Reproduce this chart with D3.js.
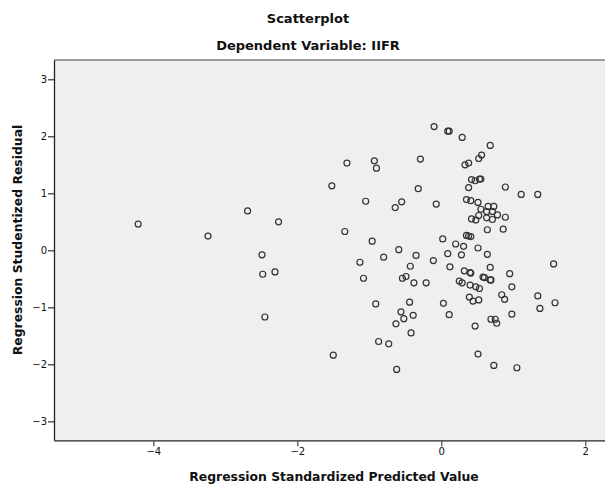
<!DOCTYPE html>
<html>
<head>
<meta charset="utf-8">
<script src="https://cdn.jsdelivr.net/npm/d3@7"></script>
<style>
  body { margin: 0; background: #fff; }
  svg { display: block; }
  .title { font-family: "DejaVu Sans", sans-serif; font-weight: bold; font-size: 13px; fill: #111; }
  .axis-title { font-family: "DejaVu Sans", sans-serif; font-weight: bold; font-size: 12.4px; fill: #111; }
  .tick text { font-family: "DejaVu Sans", sans-serif; font-size: 10px; fill: #111; }
</style>
</head>
<body>
<div id="chart"></div>
<script>
const WIDTH = 605;
const HEIGHT = 489;
const LEFT = 54;
const RIGHT = 605;
const TOP = 60;
const BOTTOM = 440.3;

const xTicks = [-4, -2, 0, 2];
const yTicks = [-3, -2, -1, 0, 1, 2, 3];

// Standardized predicted values (x) and studentized residuals (y)
const predicted = [
  -4.21, -3.24, -2.69, -2.26, -2.49, -2.48, -2.31, -2.45, -0.10, 0.09,
  0.11, -1.31, -0.93, -0.90, -0.29, -1.52, -1.05, -0.55, -0.64, -0.32,
  -0.07, -1.34, -0.96, 0.02, -0.59, -0.80, -0.35, 0.09, -0.11, -1.13,
  -0.43, 0.12, -1.08, -0.54, -0.49, -0.38, -0.21, -0.91, -0.44, 0.03,
  0.11, -0.56, -0.39, -0.52, -0.63, -0.42, -0.87, -0.73, -1.50, -0.62,
  0.29, 0.68, 0.33, 0.38, 0.52, 0.56, 0.42, 0.47, 0.53, 0.55,
  0.38, 0.89, 1.11, 1.34, 0.35, 0.41, 0.51, 0.55, 0.65, 0.73,
  0.63, 0.71, 0.78, 0.89, 0.52, 0.42, 0.48, 0.63, 0.71, 0.64,
  0.86, 0.35, 0.38, 0.41, 0.20, 0.31, 0.51, 0.28, 0.64, 0.32,
  0.40, 0.41, 0.68, 0.25, 0.29, 0.58, 0.60, 0.68, 0.69, 0.40,
  0.48, 0.53, 0.95, 0.98, 0.84, 0.88, 0.39, 0.44, 0.52, 1.34,
  1.56, 1.58, 1.37, 0.69, 0.75, 0.77, 0.98, 0.47, 0.51, 0.73,
  1.05
];
const residual = [
  0.46, 0.25, 0.69, 0.50, -0.08, -0.42, -0.38, -1.17, 2.17, 2.09,
  2.09, 1.53, 1.57, 1.44, 1.60, 1.13, 0.86, 0.85, 0.75, 1.08,
  0.81, 0.33, 0.16, 0.20, 0.01, -0.12, -0.09, -0.06, -0.18, -0.21,
  -0.28, -0.29, -0.49, -0.49, -0.46, -0.57, -0.57, -0.94, -0.91, -0.93,
  -1.13, -1.08, -1.14, -1.20, -1.29, -1.45, -1.60, -1.64, -1.84, -2.09,
  1.98, 1.84, 1.50, 1.53, 1.61, 1.67, 1.24, 1.22, 1.25, 1.25,
  1.10, 1.11, 0.98, 0.98, 0.89, 0.87, 0.84, 0.72, 0.77, 0.77,
  0.68, 0.68, 0.62, 0.58, 0.61, 0.55, 0.53, 0.57, 0.54, 0.36,
  0.37, 0.26, 0.25, 0.24, 0.11, 0.07, 0.04, -0.08, -0.07, -0.36,
  -0.39, -0.40, -0.30, -0.54, -0.57, -0.47, -0.48, -0.52, -0.52, -0.61,
  -0.64, -0.67, -0.41, -0.64, -0.78, -0.86, -0.82, -0.89, -0.87, -0.80,
  -0.24, -0.92, -1.02, -1.21, -1.21, -1.28, -1.12, -1.33, -1.82, -2.02,
  -2.06
];

const points = predicted.map((x, i) => ({ x: x, y: residual[i] }));

const xScale = d3.scaleLinear()
                 .domain([-5.379, 2.274])
                 .range([LEFT, RIGHT]);
const yScale = d3.scaleLinear()
                 .domain([-3.333, 3.338])
                 .range([BOTTOM, TOP]);

const svg = d3.select('#chart')
              .append('svg')
              .attr('width', WIDTH)
              .attr('height', HEIGHT);

// plot background
svg.append('rect')
   .attr('x', LEFT)
   .attr('y', TOP)
   .attr('width', RIGHT - LEFT)
   .attr('height', BOTTOM - TOP)
   .attr('fill', '#efefef');

// top frame line
svg.append('line')
   .attr('x1', LEFT).attr('x2', RIGHT)
   .attr('y1', TOP).attr('y2', TOP)
   .attr('stroke', '#444')
   .attr('stroke-width', 1);

// points
svg.selectAll('circle')
   .data(points)
   .enter()
   .append('circle')
   .attr('cx', d => xScale(d.x))
   .attr('cy', d => yScale(d.y))
   .attr('r', 3)
   .attr('fill', 'none')
   .attr('stroke', '#333')
   .attr('stroke-width', 1.2);

// x axis
const xAxis = d3.axisBottom(xScale)
                .tickValues(xTicks)
                .tickSize(6)
                .tickSizeOuter(0)
                .tickFormat(d => d < 0 ? '\u2212' + Math.abs(d) : d);
const gx = svg.append('g')
   .attr('transform', 'translate(0, ' + BOTTOM + ')')
   .call(xAxis);
gx.select('.domain').attr('stroke', '#222').attr('stroke-width', 1.3);
gx.selectAll('.tick line').attr('stroke', '#555').attr('stroke-width', 1.3);
gx.selectAll('.tick text').attr('dy', '0.85em').attr('y', 6);

// y axis
const yAxis = d3.axisLeft(yScale)
                .tickValues(yTicks)
                .tickSize(6)
                .tickSizeOuter(0)
                .tickFormat(d => d < 0 ? '\u2212' + Math.abs(d) : d);
const gy = svg.append('g')
   .attr('transform', 'translate(' + LEFT + ', 0)')
   .call(yAxis);
gy.select('.domain').attr('stroke', '#222').attr('stroke-width', 1.3);
gy.selectAll('.tick line').attr('stroke', '#333').attr('stroke-width', 1.2);
gy.selectAll('.tick text').attr('x', -7);

// titles
svg.append('text')
   .attr('class', 'title')
   .attr('x', 308)
   .attr('y', 23)
   .attr('text-anchor', 'middle')
   .text('Scatterplot');

svg.append('text')
   .attr('class', 'title')
   .attr('x', 308)
   .attr('y', 50)
   .attr('text-anchor', 'middle')
   .text('Dependent Variable: IIFR');

svg.append('text')
   .attr('class', 'axis-title')
   .attr('x', 334)
   .attr('y', 481)
   .attr('text-anchor', 'middle')
   .text('Regression Standardized Predicted Value');

svg.append('text')
   .attr('class', 'axis-title')
   .attr('transform', 'translate(22, 240) rotate(-90)')
   .attr('text-anchor', 'middle')
   .text('Regression Studentized Residual');
</script>
</body>
</html>
